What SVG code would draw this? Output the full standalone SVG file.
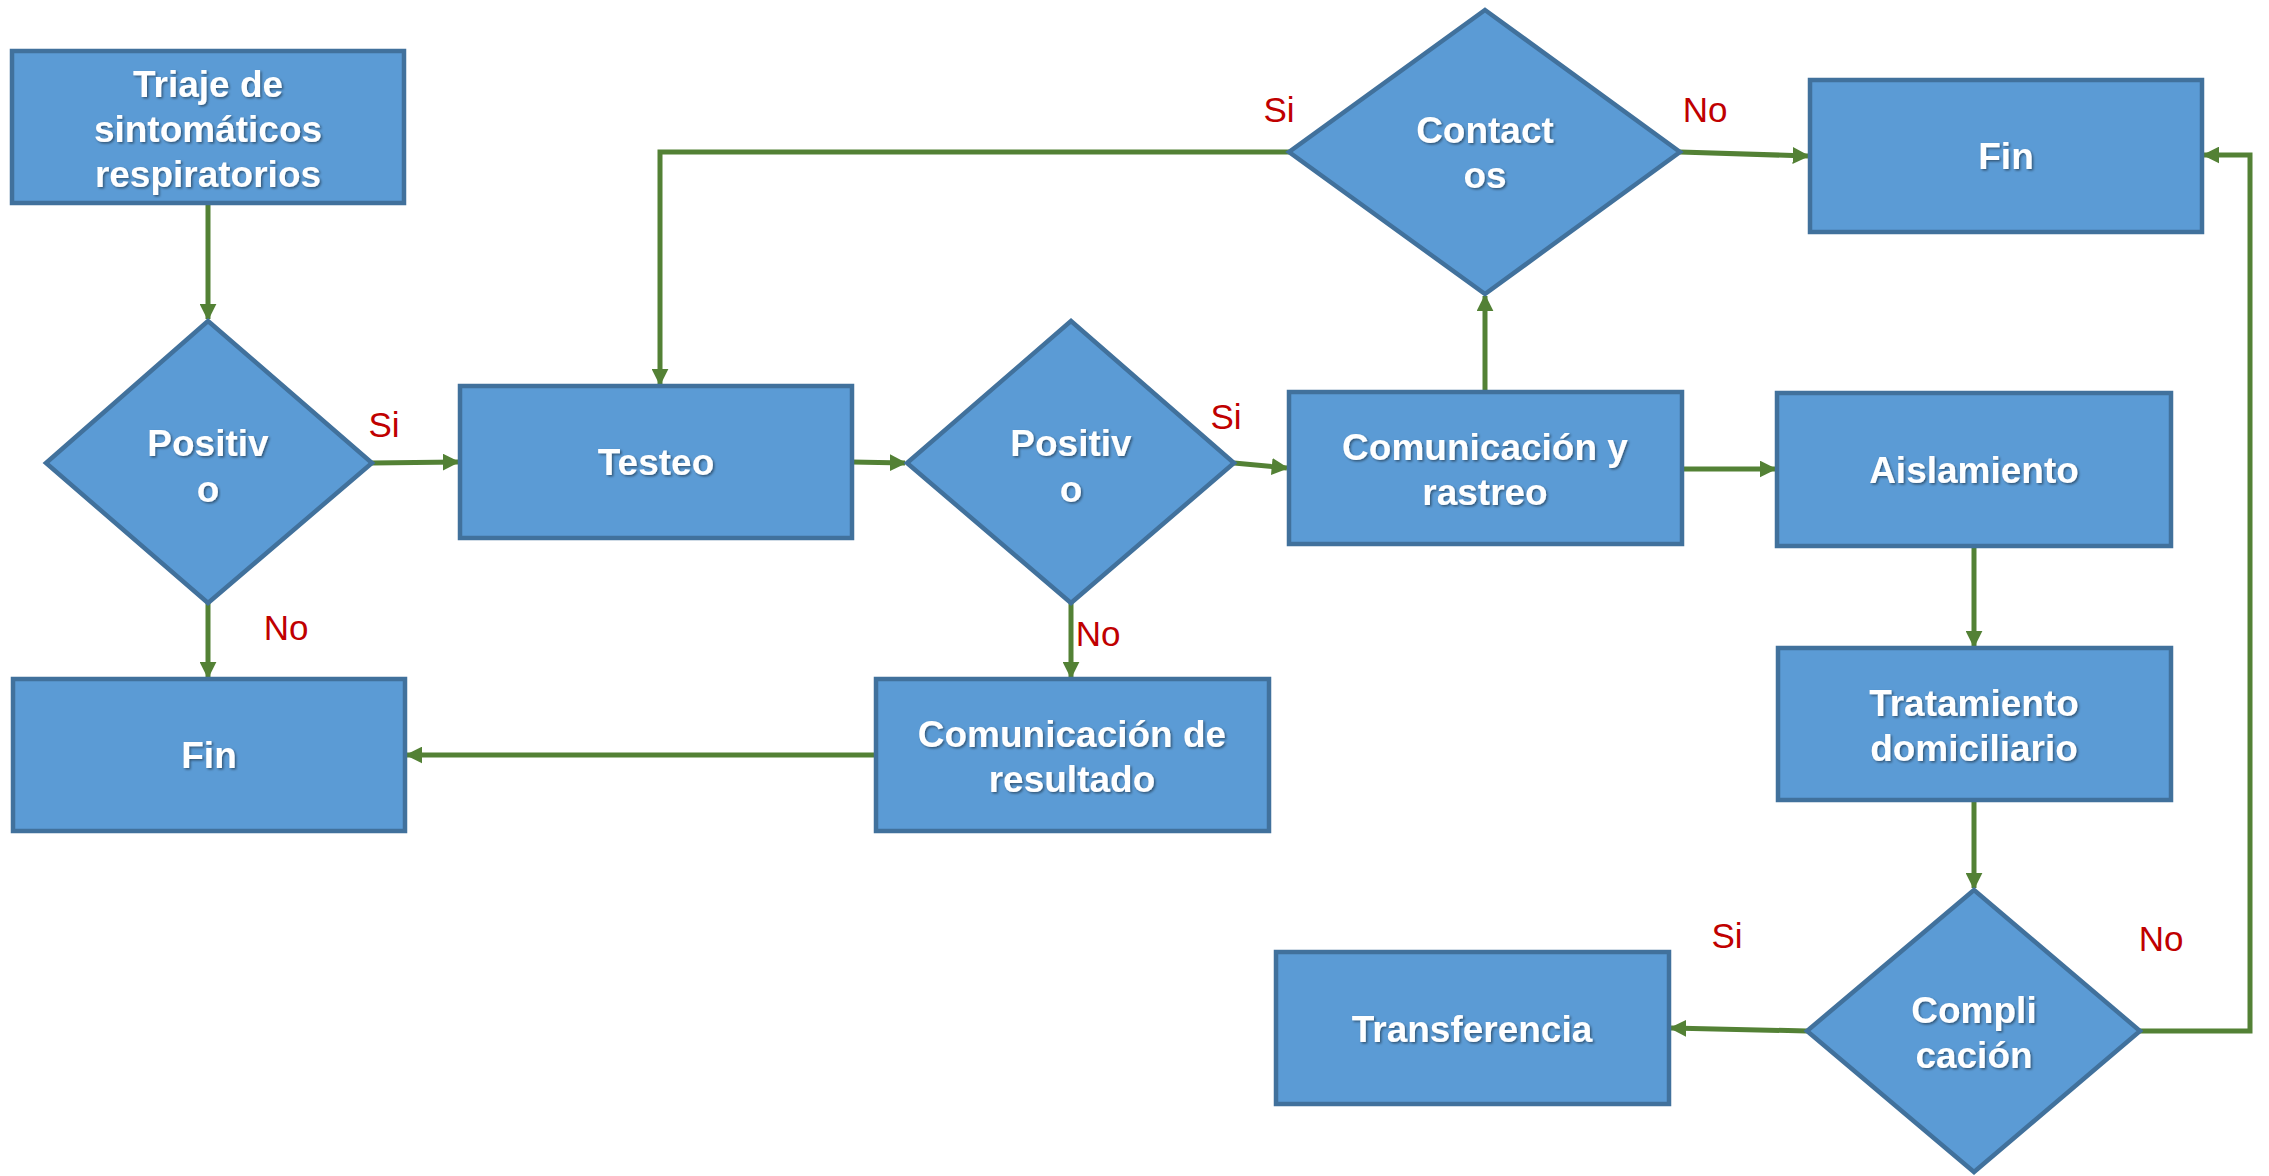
<svg xmlns="http://www.w3.org/2000/svg" width="2269" height="1176" viewBox="0 0 2269 1176">
<defs>
<marker id="arr" viewBox="0 0 10 10" markerWidth="3.4" markerHeight="3.4" refX="9" refY="5" orient="auto">
<path d="M0,0 L10,5 L0,10 z" fill="#538135"/>
</marker>
<filter id="sh" x="-5%" y="-5%" width="110%" height="120%">
<feDropShadow dx="1.5" dy="1.5" stdDeviation="1" flood-color="#000" flood-opacity="0.45"/>
</filter>
</defs>
<style>
.n{fill:#5B9BD5;stroke:#41719C;stroke-width:4.5}
.t{font-family:"Liberation Sans",Arial,sans-serif;font-weight:bold;font-size:37px;fill:#fff;text-anchor:middle;filter:url(#sh)}
.c{fill:none;stroke:#538135;stroke-width:5;marker-end:url(#arr)}
.l{font-family:"Liberation Sans",Arial,sans-serif;font-size:35px;fill:#C00000;text-anchor:middle}
</style>
<rect width="2269" height="1176" fill="#fff"/>
<g id="connectors">
<line class="c" x1="208" y1="203" x2="208" y2="319"/>
<line class="c" x1="372" y1="463" x2="458" y2="462"/>
<line class="c" x1="208" y1="603" x2="208" y2="677"/>
<line class="c" x1="852" y1="462" x2="905" y2="463"/>
<line class="c" x1="1234" y1="463" x2="1287" y2="468"/>
<line class="c" x1="1071" y1="603" x2="1071" y2="677"/>
<line class="c" x1="875" y1="755" x2="407" y2="755"/>
<line class="c" x1="1485" y1="392" x2="1485" y2="296"/>
<polyline class="c" points="1289,152 660,152 660,384"/>
<line class="c" x1="1680" y1="152" x2="1808" y2="156"/>
<line class="c" x1="1682" y1="469" x2="1775" y2="469"/>
<line class="c" x1="1974" y1="546" x2="1974" y2="646"/>
<line class="c" x1="1974" y1="800" x2="1974" y2="888"/>
<line class="c" x1="1807" y1="1031" x2="1671" y2="1028"/>
<polyline class="c" points="2140,1031 2250,1031 2250,155 2204,155"/>
<text class="l" x="384" y="437">Si</text>
<text class="l" x="286" y="640">No</text>
<text class="l" x="1226" y="429">Si</text>
<text class="l" x="1098" y="646">No</text>
<text class="l" x="1279" y="122">Si</text>
<text class="l" x="1705" y="122">No</text>
<text class="l" x="1727" y="948">Si</text>
<text class="l" x="2161" y="951">No</text>
</g>
<g id="triaje">
<rect class="n" x="12" y="51" width="392" height="152"/>
<text class="t" x="208" y="97">Triaje de</text>
<text class="t" x="208" y="142">sintomáticos</text>
<text class="t" x="208" y="187">respiratorios</text>
</g>
<g id="positivo1">
<polygon class="n" points="208,321 372,463 208,603 46,463"/>
<text class="t" x="208" y="456">Positiv</text>
<text class="t" x="208" y="502">o</text>
</g>
<g id="fin1">
<rect class="n" x="13" y="679" width="392" height="152"/>
<text class="t" x="209" y="768">Fin</text>
</g>
<g id="testeo">
<rect class="n" x="460" y="386" width="392" height="152"/>
<text class="t" x="656" y="475">Testeo</text>
</g>
<g id="positivo2">
<polygon class="n" points="1071,321 1234,463 1071,603 907,463"/>
<text class="t" x="1071" y="456">Positiv</text>
<text class="t" x="1071" y="502">o</text>
</g>
<g id="comunicacion-resultado">
<rect class="n" x="876" y="679" width="393" height="152"/>
<text class="t" x="1072" y="747">Comunicación de</text>
<text class="t" x="1072" y="792">resultado</text>
</g>
<g id="comunicacion-rastreo">
<rect class="n" x="1289" y="392" width="393" height="152"/>
<text class="t" x="1485" y="460">Comunicación y</text>
<text class="t" x="1485" y="505">rastreo</text>
</g>
<g id="contactos">
<polygon class="n" points="1485,10 1680,152 1485,294 1289,152"/>
<text class="t" x="1485" y="143">Contact</text>
<text class="t" x="1485" y="188">os</text>
</g>
<g id="fin2">
<rect class="n" x="1810" y="80" width="392" height="152"/>
<text class="t" x="2006" y="169">Fin</text>
</g>
<g id="aislamiento">
<rect class="n" x="1777" y="393" width="394" height="153"/>
<text class="t" x="1974" y="483">Aislamiento</text>
</g>
<g id="tratamiento">
<rect class="n" x="1778" y="648" width="393" height="152"/>
<text class="t" x="1974" y="716">Tratamiento</text>
<text class="t" x="1974" y="761">domiciliario</text>
</g>
<g id="complicacion">
<polygon class="n" points="1974,890 2140,1031 1974,1172 1807,1031"/>
<text class="t" x="1974" y="1023">Compli</text>
<text class="t" x="1974" y="1068">cación</text>
</g>
<g id="transferencia">
<rect class="n" x="1276" y="952" width="393" height="152"/>
<text class="t" x="1472" y="1042">Transferencia</text>
</g>
</svg>
